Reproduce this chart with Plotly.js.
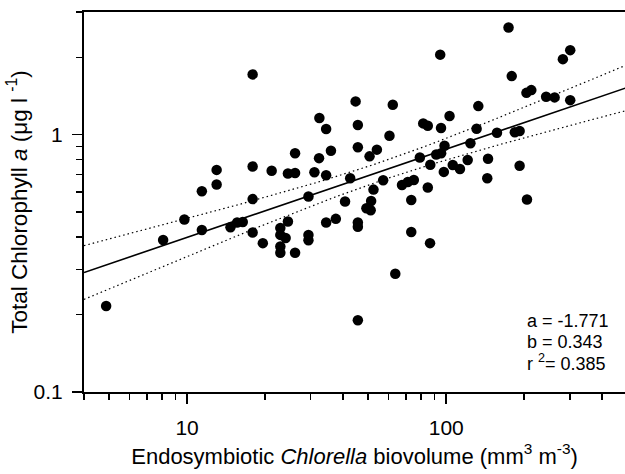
<!DOCTYPE html>
<html>
<head>
<meta charset="utf-8">
<script src="https://cdn.plot.ly/plotly-3.0.1.min.js"></script>
<style>html,body{margin:0;padding:0;background:#fff;overflow:hidden}</style>
</head>
<body>
<div id="chart" style="width:625px;height:474px"></div>
<script>
// Endosymbiotic Chlorella biovolume (mm3 m-3)
const biovolume = [4.87, 8.08, 9.76, 11.4, 11.4, 13.0, 13.0, 14.7, 15.6, 16.4,
  17.9, 17.9, 17.9, 17.9, 19.6, 21.2, 22.9, 22.9, 24.0, 22.9,
  22.9, 24.5, 24.5, 26.1, 26.1, 26.1, 29.4, 29.4, 29.4, 31.0,
  32.3, 32.4, 34.4, 34.4, 34.4, 35.9, 37.5, 40.7, 42.6, 44.7,
  45.6, 45.6, 45.6, 45.6, 45.6, 49.2, 51.1, 51.3, 50.6, 52.4,
  54.0, 57.1, 60.4, 62.2, 63.6, 67.5, 71.1, 75.0, 73.3, 73.3,
  79.1, 81.5, 84.9, 84.9, 86.8, 86.6, 91.5, 95.6, 94.8, 95.5,
  97.9, 98.5, 103, 106, 113, 121, 124, 131, 133, 144,
  145, 157, 174, 179, 184, 192, 192, 204, 205, 213,
  243, 262, 282, 301, 301];
// Total chlorophyll a (ug l-1)
const chlorophyll = [0.216, 0.390, 0.468, 0.603, 0.426, 0.730, 0.641, 0.437, 0.456, 0.458,
  1.716, 0.753, 0.562, 0.417, 0.379, 0.725, 0.434, 0.408, 0.397, 0.368,
  0.348, 0.707, 0.460, 0.847, 0.710, 0.348, 0.575, 0.408, 0.389, 0.715,
  0.811, 1.161, 1.052, 0.696, 0.456, 0.867, 0.471, 0.550, 0.677, 1.348,
  1.091, 0.894, 0.456, 0.439, 0.190, 0.518, 0.509, 0.553, 0.824, 0.612,
  0.875, 0.665, 0.991, 1.307, 0.288, 0.638, 0.655, 0.667, 0.558, 0.419,
  0.816, 1.107, 1.084, 0.624, 0.765, 0.379, 0.838, 0.847, 2.048, 1.062,
  0.717, 0.906, 1.182, 0.763, 0.736, 0.798, 0.926, 1.055, 1.292, 0.677,
  0.807, 1.018, 2.611, 1.690, 1.022, 1.034, 0.758, 1.455, 0.560, 1.491,
  1.404, 1.397, 1.967, 2.132, 1.363];

// Regression (log10 y = a + b log10 x, x in um3 ml-1 = 1000 * mm3 m-3)
const fitA = -1.771;
const fitB = 0.343;
const fitR2 = 0.385;
const unitFactor = 1000;
// 95% confidence band of the fit (in log10 units)
const ciHalfMin = 0.036;
const ciCurv = 0.0073;
const ciCenterLogX = 1.75;

const xMin = 4, xMax = 500;
const xTickVals = [10, 100];
const xTickText = ['10', '100'];
const xMinorVals = [4, 5, 6, 7, 8, 9, 20, 30, 40, 50, 60, 70, 80, 90, 200, 300, 400];
const yTickVals = [0.1, 1];
const yTickText = ['0.1', '1'];
const yMinorVals = [0.2, 0.3, 0.4, 0.5, 0.6, 0.7, 0.8, 0.9, 2, 3];

const statLines = ['a = ' + fitA.toFixed(3), 'b = ' + fitB.toFixed(3), 'r <sup>2</sup>= ' + fitR2.toFixed(3)];

const fitX = [], fitY = [], upY = [], loY = [];
const nSteps = 120;
for (let i = 0; i <= nSteps; i++) {
  const lx = Math.log10(xMin) + (Math.log10(xMax) - Math.log10(xMin)) * i / nSteps;
  const ly = fitA + fitB * (lx + Math.log10(unitFactor));
  const hw = Math.sqrt(ciHalfMin * ciHalfMin + ciCurv * (lx - ciCenterLogX) * (lx - ciCenterLogX));
  fitX.push(Math.pow(10, lx));
  fitY.push(Math.pow(10, ly));
  upY.push(Math.pow(10, ly + hw));
  loY.push(Math.pow(10, ly - hw));
}

const FONT = 'Liberation Sans, Arial, sans-serif';

const traces = [
  {x: fitX, y: upY, mode: 'lines', line: {color: '#000', width: 1.2, dash: '1.5px,3px'}, hoverinfo: 'skip'},
  {x: fitX, y: loY, mode: 'lines', line: {color: '#000', width: 1.2, dash: '1.5px,3px'}, hoverinfo: 'skip'},
  {x: fitX, y: fitY, mode: 'lines', line: {color: '#000', width: 1.6}, hoverinfo: 'skip'},
  {x: biovolume, y: chlorophyll, mode: 'markers', marker: {color: '#000', size: 10.5}, cliponaxis: false}
];

const annY = [0.1876, 0.1324, 0.0771];
const annotations = statLines.map((t, i) => ({
  text: t, xref: 'paper', yref: 'paper', x: 0.815, y: annY[i],
  xanchor: 'left', yanchor: 'middle', showarrow: false,
  font: {family: FONT, size: 18, color: '#000'}
}));

const layout = {
  width: 625, height: 474,
  margin: {l: 84, r: 0, t: 12, b: 82},
  showlegend: false,
  paper_bgcolor: '#fff', plot_bgcolor: '#fff',
  font: {family: FONT, color: '#000'},
  xaxis: {
    type: 'log', range: [Math.log10(xMin), 2.69],
    showline: true, linewidth: 2, linecolor: '#000', mirror: true,
    showgrid: false, zeroline: false,
    ticks: 'outside', ticklen: 10, tickwidth: 1.5, tickcolor: '#000',
    tickmode: 'array', tickvals: xTickVals, ticktext: xTickText,
    ticklabelstandoff: 6,
    tickfont: {family: FONT, size: 21, color: '#000'},
    minor: {tickmode: 'array', tickvals: xMinorVals, ticks: 'outside', ticklen: 6, tickwidth: 1.5, tickcolor: '#000', showgrid: false},
    title: {text: 'Endosymbiotic <i>Chlorella</i> biovolume (mm<sup>3</sup> m<sup>-3</sup>)', font: {family: FONT, size: 22, color: '#000'}, standoff: 10}
  },
  yaxis: {
    type: 'log', range: [-1, Math.log10(3)],
    showline: true, linewidth: 2, linecolor: '#000',
    showgrid: false, zeroline: false,
    ticks: 'outside', ticklen: 10, tickwidth: 1.5, tickcolor: '#000',
    tickmode: 'array', tickvals: yTickVals, ticktext: yTickText,
    ticklabelstandoff: 5,
    tickfont: {family: FONT, size: 21, color: '#000'},
    minor: {tickmode: 'array', tickvals: yMinorVals, ticks: 'outside', ticklen: 6, tickwidth: 1.5, tickcolor: '#000', showgrid: false},
    title: {text: 'Total Chlorophyll <i>a</i> (μg l <sup>-1</sup>)', font: {family: FONT, size: 22.5, color: '#000'}, standoff: 0}
  },
  annotations: annotations
};

Plotly.newPlot('chart', traces, layout, {staticPlot: true, displayModeBar: false});
</script>
</body>
</html>
